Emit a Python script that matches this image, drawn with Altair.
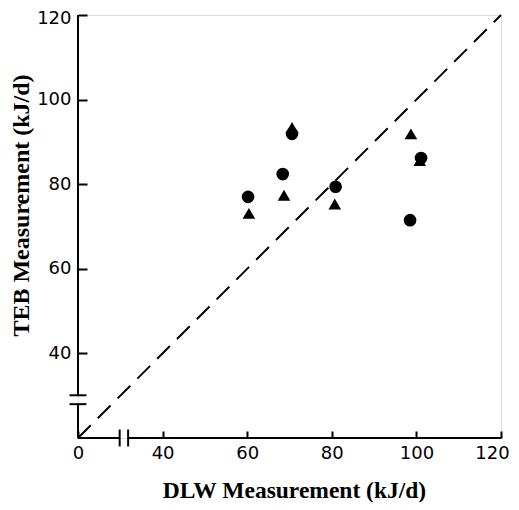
import altair as alt
import pandas as pd

# Measurements (kJ/d)
circle_dlw = [60.2, 68.4, 70.6, 80.9, 98.5, 101.1]
circle_teb = [77.0, 82.4, 91.9, 79.4, 71.5, 86.2]
triangle_dlw = [60.4, 68.7, 70.6, 80.7, 98.7, 100.8]
triangle_teb = [73.1, 77.4, 93.4, 75.3, 91.9, 85.6]

# identity line
line_vals = [20, 120]

# axis ticks (x: first position is the broken-axis origin, labelled 0)
x_tick_vals = [20, 40, 60, 80, 100, 120]
y_tick_vals = [40, 60, 80, 100, 120]

# axis line segments with breaks
seg_x = [20, 20, 20, 31.85]
seg_x2 = [20, 20, 29.85, 120]
seg_y = [20, 30.1, 20, 20]
seg_y2 = [28.0, 120, 20, 20]

# break caps
cap_x = [18, 18, 29.85, 31.85]
cap_x2 = [22, 22, 29.85, 31.85]
cap_y = [28.0, 30.1, 18, 18]
cap_y2 = [28.0, 30.1, 22, 22]

pts = pd.DataFrame({
    "dlw": circle_dlw + triangle_dlw,
    "teb": circle_teb + triangle_teb,
    "method": ["circle"] * len(circle_dlw) + ["triangle"] * len(triangle_dlw),
})
line_df = pd.DataFrame({"dlw": line_vals, "teb": line_vals})
seg_df = pd.DataFrame({"x": seg_x, "x2": seg_x2, "y": seg_y, "y2": seg_y2})
cap_df = pd.DataFrame({"x": cap_x, "x2": cap_x2, "y": cap_y, "y2": cap_y2})

xs = alt.Scale(domain=[20, 120], nice=False, zero=False)
ys = alt.Scale(domain=[20, 120], nice=False, zero=False)

label_font = "DejaVu Sans"
title_font = "Liberation Serif"

x_axis = alt.Axis(
    values=x_tick_vals, labelExpr="datum.value == 20 ? '0' : datum.label",
    domain=False, grid=False, tickSize=7, tickWidth=2, tickColor="black",
    offset=-7, labelPadding=6, labelFont=label_font, labelFontSize=18,
    labelOffset={"expr": "datum.value == 120 ? -9 : 0"},
    labelColor="black", title="DLW Measurement (kJ/d)", titleFont=title_font,
    titleFontSize=23.5, titleFontWeight="bold", titleColor="black",
    titleX=216, titleY=66, titleBaseline="alphabetic", titleAnchor="middle",
    labelFlush=False, labelOverlap=False,
)
y_axis = alt.Axis(
    values=y_tick_vals,
    domain=False, grid=False, tickSize=9, tickWidth=2, tickColor="black",
    offset=-9, labelPadding=7, labelFont=label_font, labelFontSize=18,
    labelOffset={"expr": "datum.value == 120 ? 3 : 0"},
    labelColor="black", title="TEB Measurement (kJ/d)", titleFont=title_font,
    titleFontSize=24, titleFontWeight="bold", titleColor="black",
    titleX=-66, titleY=190, titleBaseline="middle", titleAlign="center",
    titleAngle=-90, labelFlush=False, labelOverlap=False,
)

base_pts = alt.Chart(pts).mark_point(filled=True, size=160, color="black", opacity=1).encode(
    x=alt.X("dlw:Q", scale=xs, axis=x_axis),
    y=alt.Y("teb:Q", scale=ys, axis=y_axis),
    shape=alt.Shape("method:N", scale=alt.Scale(domain=["circle", "triangle"],
                                                range=["circle", "triangle-up"]), legend=None),
)

dline = alt.Chart(line_df).mark_line(color="black", strokeWidth=2, strokeDash=[18, 10]).encode(
    x=alt.X("dlw:Q", scale=xs), y=alt.Y("teb:Q", scale=ys)
)

segs = alt.Chart(seg_df).mark_rule(color="black", strokeWidth=2).encode(
    x=alt.X("x:Q", scale=xs), x2="x2", y=alt.Y("y:Q", scale=ys), y2="y2"
)
caps = alt.Chart(cap_df).mark_rule(color="black", strokeWidth=2).encode(
    x=alt.X("x:Q", scale=xs), x2="x2", y=alt.Y("y:Q", scale=ys), y2="y2"
)

chart = alt.layer(dline, segs, caps, base_pts).properties(
    width=423, height=423,
    autosize=alt.AutoSizeParams(type="none"),
    padding={"left": 70, "top": 7, "right": 10, "bottom": 64},
).configure_view(stroke=None).configure(background="white")

chart.save("out.html", embed_options={"renderer": "svg", "actions": False})
